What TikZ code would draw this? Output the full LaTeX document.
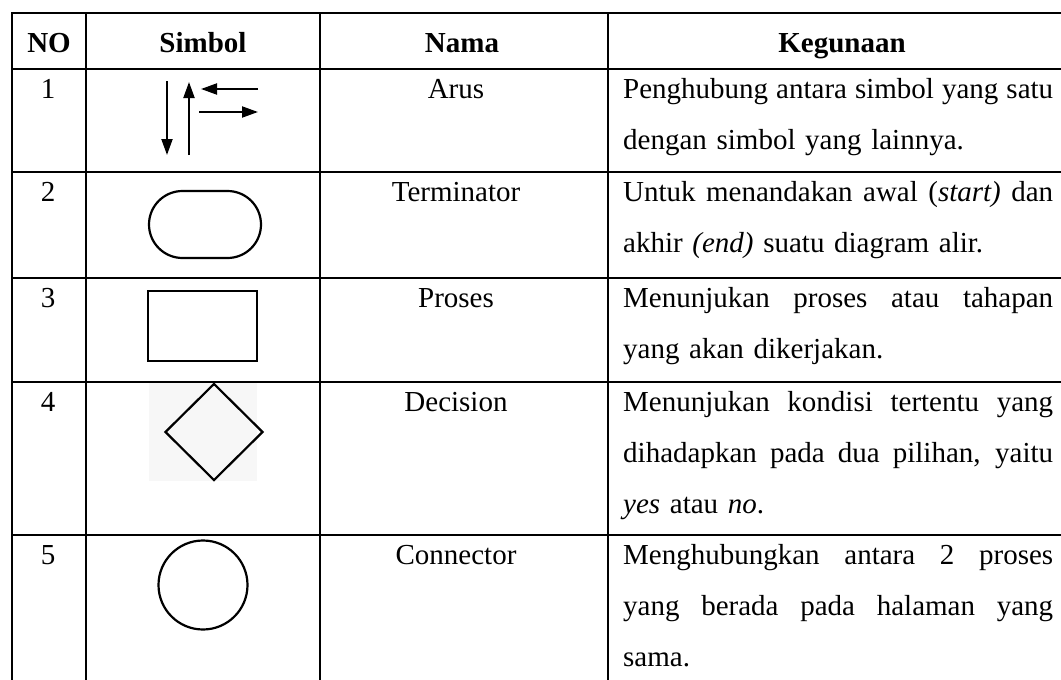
\documentclass[tikz,border=0pt]{standalone}
\usepackage{fontspec}
\setmainfont{Liberation Serif}
\usetikzlibrary{arrows.meta,shapes.misc,shapes.geometric}

\newcommand{\fullline}[1]{\makebox[430pt][s]{\spaceskip=0pt\xspaceskip=0pt\relax #1}}

\begin{document}
\begin{tikzpicture}[x=1pt, y=-1pt,
  rule/.style={black, line width=2.2pt, line cap=rect},
  cell/.style={anchor=base, inner sep=0pt, font=\fontsize{29}{51}\selectfont},
  head/.style={cell, font=\fontsize{29}{51}\selectfont\bfseries},
  desc/.style={anchor=base west, inner sep=0pt, text width=430pt, align=left,
    font=\fontsize{29}{51}\selectfont},
  sym/.style={draw, black, line width=2.2pt, inner sep=0pt},
  flow/.style={black, line width=2pt, -{Triangle[length=16pt, width=11pt]}}]

\useasboundingbox (0,0) rectangle (1061,680);

% table
\foreach \y in {13,69,172,278,382,535}
  \draw[rule] (12,\y) -- (1061,\y);
\foreach \x in {12,86,320,608}
  \draw[rule] (\x,13) -- (\x,680);

% header
\node[head] (hno) at (49,52) {NO};
\node[head] (hsym) at (203,52) {Simbol};
\node[head] (hname) at (462,52) {Nama};
\node[head] (huse) at (842,52) {Kegunaan};

% numbers and names
\node[cell] (no1) at (48,98) {1};
\node[cell] (no2) at (48,201) {2};
\node[cell] (no3) at (48,307) {3};
\node[cell] (no4) at (48,411) {4};
\node[cell] (no5) at (48,564) {5};

\node[cell] (arus) at (456,98) {Arus};
\node[cell] (terminator) at (456,201) {Terminator};
\node[cell] (proses) at (456,307) {Proses};
\node[cell] (decision) at (456,411) {Decision};
\node[cell] (connector) at (456,564) {Connector};

% symbols
\coordinate (dtop) at (167,81);
\coordinate (dbot) at (167,155);
\coordinate (ubot) at (189,155);
\coordinate (utop) at (189,82);
\coordinate (lfrom) at (258,89);
\coordinate (lto) at (201,89);
\coordinate (rfrom) at (199,112);
\coordinate (rto) at (258,112);
\draw[flow] (dtop) -- (dbot);
\draw[flow] (ubot) -- (utop);
\draw[flow] (lfrom) -- (lto);
\draw[flow] (rfrom) -- (rto);

\node[sym, rounded rectangle, minimum width=112pt, minimum height=67pt] (termsym) at (205,224.5) {};
\node[sym, rectangle, minimum width=109pt, minimum height=70pt] (procsym) at (202.5,326) {};
\fill[black!3] (149,383) rectangle (257,481);
\node[sym, diamond, minimum width=98pt, minimum height=97pt] (decsym) at (214,432) {};
\node[sym, circle, minimum size=89pt] (consym) at (203,585) {};

% descriptions
\node[desc] (use1) at (623,98) {\fullline{Penghubung antara simbol yang satu}\\
  dengan simbol yang lainnya.};
\node[desc] (use2) at (623,201) {\fullline{Untuk menandakan awal (\textit{start)} dan}\\
  akhir \textit{(end)} suatu diagram alir.};
\node[desc] (use3) at (623,307) {\fullline{Menunjukan proses atau tahapan}\\
  yang akan dikerjakan.};
\node[desc] (use4) at (623,411) {\fullline{Menunjukan kondisi tertentu yang}\\
  \fullline{dihadapkan pada dua pilihan, yaitu}\\
  \textit{yes} atau \textit{no}.};
\node[desc] (use5) at (623,564) {\fullline{Menghubungkan antara 2 proses}\\
  \fullline{yang berada pada halaman yang}\\
  sama.};

\end{tikzpicture}
\end{document}
